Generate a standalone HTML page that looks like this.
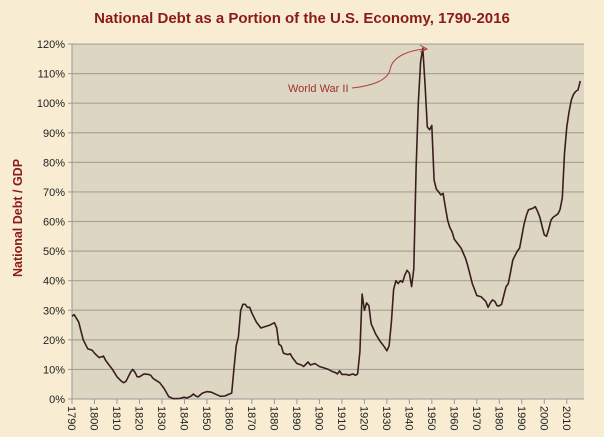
<!DOCTYPE html>
<html><head><meta charset="utf-8"><style>
html,body{margin:0;padding:0;}
body{width:604px;height:437px;background:#f8edd3;overflow:hidden;font-family:"Liberation Sans",sans-serif;}
</style></head><body>
<svg id="s" width="604" height="437" xmlns="http://www.w3.org/2000/svg" style="position:absolute;left:0;top:0">
<rect width="604" height="437" fill="#f8edd3"/>
<text x="302" y="23" text-anchor="middle" font-family="Liberation Sans, sans-serif" font-weight="bold" font-size="15" fill="#8b1a1a">National Debt as a Portion of the U.S. Economy, 1790-2016</text>
<text transform="translate(22,218) rotate(-90)" text-anchor="middle" font-family="Liberation Sans, sans-serif" font-weight="bold" font-size="12.5" fill="#8b1a1a">National Debt / GDP</text>
<rect x="72" y="44" width="512" height="355" fill="#ddd6c3"/>
<g id="grid"></g>
<g id="xt"></g>
<path id="line" fill="none" stroke="#3a1f1f" stroke-width="1.6" stroke-linejoin="round"/>
<text x="288" y="92" font-family="Liberation Sans, sans-serif" font-size="11" fill="#a03030">World War II</text>
<path d="M352,88 C372,86 388,80 390,70 C392,56 410,50 426,49" fill="none" stroke="#b04040" stroke-width="1"/>
<path d="M420,45 L427,49 L420,52" fill="none" stroke="#b04040" stroke-width="1"/>
</svg>
<script>
var NS="http://www.w3.org/2000/svg";
function el(t,a,p,txt){var e=document.createElementNS(NS,t);for(var k in a)e.setAttribute(k,a[k]);if(txt)e.textContent=txt;document.getElementById(p).appendChild(e);return e;}
function Y(v){return 399-v*2.958;}
function X(y){return 72+(y-1790)*2.249;}
for(var i=0;i<=12;i++){var y=Y(i*10);
 if(i>0)el('line',{x1:72,x2:584,y1:y,y2:y,stroke:'#a8a398','stroke-width':1.2},'grid');
 el('line',{x1:68,x2:72,y1:y,y2:y,stroke:'#999','stroke-width':1},'grid');
 el('text',{x:65,y:y+4,'text-anchor':'end','font-size':11,'font-family':'Liberation Sans, sans-serif',fill:'#222'},'grid',(i*10)+'%');}
el('line',{x1:72,x2:72,y1:44,y2:399,stroke:'#999','stroke-width':1},'grid');
el('line',{x1:72,x2:584,y1:399,y2:399,stroke:'#999','stroke-width':1},'grid');
for(var yr=1790;yr<=2010;yr+=10){var x=X(yr);
 el('line',{x1:x,x2:x,y1:399,y2:404,stroke:'#999','stroke-width':1},'xt');
 el('text',{transform:'translate('+(x-4)+',406) rotate(90)','font-size':11,'font-family':'Liberation Sans, sans-serif',fill:'#222'},'xt',yr);}
var d=[[1790,28],[1791,28.5],[1793,26],[1795,20],[1797,17],[1799,16.5],[1800,15.5],[1802,14],[1804,14.5],[1805,13],[1807,11],[1808,10],[1810,7.5],[1812,6],[1813,5.5],[1814,6],[1816,9],[1817,10],[1818,9],[1819,7.5],[1820,7.5],[1822,8.5],[1824,8.3],[1825,8],[1826,7],[1827,6.5],[1829,5.5],[1831,3.5],[1833,0.8],[1835,0.1],[1838,0.2],[1840,0.6],[1841,0.3],[1843,1],[1844,1.7],[1845,1.0],[1846,0.7],[1848,2],[1850,2.5],[1852,2.3],[1854,1.6],[1856,0.9],[1858,1],[1860,1.7],[1861,2],[1862,10],[1863,18],[1864,21],[1865,30],[1866,32],[1867,32],[1868,31],[1869,31],[1870,29],[1872,26],[1873,25],[1874,24],[1876,24.5],[1878,25],[1880,25.8],[1881,24],[1882,18.5],[1883,18],[1884,15.5],[1886,15],[1887,15.3],[1888,14],[1890,12],[1892,11.5],[1893,11],[1895,12.5],[1896,11.5],[1898,12],[1900,11],[1902,10.5],[1904,10],[1906,9.2],[1907,9],[1908,8.5],[1909,9.5],[1910,8.3],[1912,8.3],[1913,8],[1915,8.5],[1916,8],[1917,8.5],[1918,16],[1919,35.5],[1920,30],[1921,32.5],[1922,31.5],[1923,25.5],[1925,22],[1927,19.5],[1929,17.5],[1930,16.3],[1931,18],[1932,26],[1933,37],[1934,40],[1935,39],[1936,40],[1937,39.5],[1938,42],[1939,43.5],[1940,42.5],[1941,38],[1942,44],[1943,78],[1944,100],[1945,114],[1946,118.6],[1947,106],[1948,92],[1949,91],[1950,92.5],[1951,74],[1952,71],[1953,70],[1954,69],[1955,69.5],[1956,65],[1957,60.5],[1958,58],[1959,56.5],[1960,54],[1961,53],[1963,51],[1965,47.5],[1966,45],[1967,42],[1968,39],[1969,37],[1970,35],[1972,34.5],[1974,33],[1975,31],[1976,32.5],[1977,33.5],[1978,33],[1979,31.5],[1980,31.5],[1981,32],[1982,35],[1983,38],[1984,39],[1985,43],[1986,47],[1988,50],[1989,51],[1990,55],[1991,59],[1992,62],[1993,64],[1995,64.5],[1996,65],[1997,63.5],[1998,61.5],[1999,58.5],[2000,55.5],[2001,55],[2002,57.5],[2003,60.5],[2004,61.5],[2005,62],[2006,62.5],[2007,64],[2008,68],[2009,83],[2010,92],[2011,97],[2012,101],[2013,103],[2014,104],[2015,104.5],[2016,107.5]];
var s='';for(var i=0;i<d.length;i++){s+=(i?'L':'M')+X(d[i][0]).toFixed(1)+','+Y(d[i][1]).toFixed(1);}
document.getElementById('line').setAttribute('d',s);
</script>
</body></html>
